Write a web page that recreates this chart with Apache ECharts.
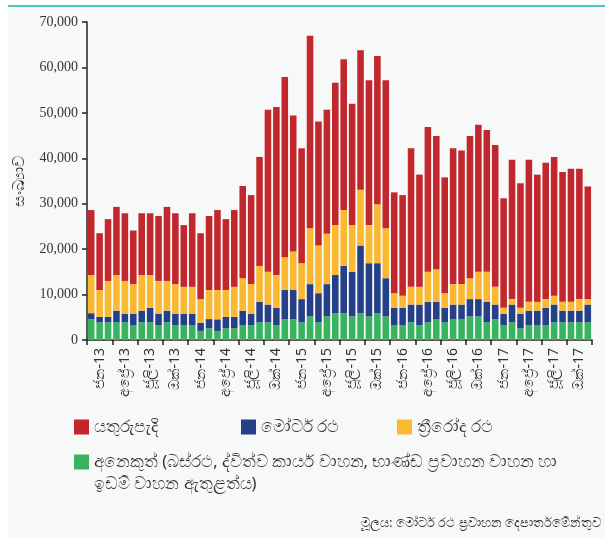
<!DOCTYPE html>
<html>
<head>
<meta charset="utf-8">
<script src="https://cdn.jsdelivr.net/npm/echarts@6/dist/echarts.min.js"></script>
<style>
html,body{margin:0;padding:0;background:#ffffff;}
#chart{width:605px;height:538px;}
</style>
</head>
<body>
<div id="chart"></div>
<script>
// Monthly categories, Jan 2013 - Dec 2017
var categories = [
  "2013-01","2013-02","2013-03","2013-04","2013-05","2013-06","2013-07","2013-08","2013-09","2013-10","2013-11","2013-12",
  "2014-01","2014-02","2014-03","2014-04","2014-05","2014-06","2014-07","2014-08","2014-09","2014-10","2014-11","2014-12",
  "2015-01","2015-02","2015-03","2015-04","2015-05","2015-06","2015-07","2015-08","2015-09","2015-10","2015-11","2015-12",
  "2016-01","2016-02","2016-03","2016-04","2016-05","2016-06","2016-07","2016-08","2016-09","2016-10","2016-11","2016-12",
  "2017-01","2017-02","2017-03","2017-04","2017-05","2017-06","2017-07","2017-08","2017-09","2017-10","2017-11","2017-12"
];
// Quarter tick labels (one per three months)
var tickLabels = [
  "ජන-13","අප්\u200dරේ-13","ජූලි-13","ඔක්-13",
  "ජන-14","අප්\u200dරේ-14","ජූලි-14","ඔක්-14",
  "ජන-15","අප්\u200dරේ-15","ජූලි-15","ඔක්-15",
  "ජන-16","අප්\u200dරේ-16","ජූලි-16","ඔක්-16",
  "ජන-17","අප්\u200dරේ-17","ජූලි-17","ඔක්-17"
];
var seriesNames = [
  "යතුරුපැදි",
  "මෝටර් රථ",
  "ත්\u200dරීරෝද රථ",
  "අනෙකුත් (බස්රථ, ද්විත්ව කාර්ය වාහන, භාණ්ඩ ප්\u200dරවාහන වාහන හා ඉඩම් වාහන ඇතුළත්ය)"
];
var otherLine1 = "අනෙකුත් (බස්රථ, ද්විත්ව කාර්ය වාහන, භාණ්ඩ ප්\u200dරවාහන වාහන හා";
var otherLine2 = "ඉඩම් වාහන ඇතුළත්ය)";
var sourceText = "මූලය: මෝටර් රථ ප්\u200dරවාහන දෙපාර්තමේන්තුව";

var other = [
  4600,3900,3900,3900,3900,3300,3900,3900,3300,3900,3300,3300,
  3300,2000,2600,2000,2600,2600,3300,3300,3900,3900,3300,4550,
  4550,3900,5200,3900,5200,5900,5900,5200,5900,5200,5900,5200,
  3300,3300,3900,3300,3900,4550,3900,4550,4550,5200,5200,3900,
  4550,3300,3900,2600,3300,3300,3300,3900,3900,3900,3900,3900
];
var motorCars = [
  1300,1200,1200,2550,1900,2500,2550,3200,2500,2550,2500,2500,
  2500,1800,2000,2550,2500,2500,3150,2500,4500,3900,3800,6450,
  6450,5100,7100,6400,7100,8400,10400,9800,14900,11700,11000,8400,
  3800,3800,3900,4500,4500,3850,3200,3250,3250,3800,3800,4500,
  3250,2500,3900,3200,3150,3150,3800,3900,2550,2550,2550,3900
];
var threeWheelers = [
  8400,5900,7900,7850,7200,6500,7850,7200,7200,6550,6500,5900,
  5900,5200,6400,6450,5900,6600,7150,6500,7900,7200,7200,7200,
  8500,7900,12300,10500,11100,11000,12300,10300,12300,8400,13000,11000,
  3200,2650,3900,3900,6600,7200,3200,4500,4500,4600,6000,6600,
  3900,1300,1200,1300,1950,1950,1900,1950,1950,1950,2550,1200
];
var motorcycles = [
  14300,12500,13600,15000,14900,11800,13600,13600,14300,16300,15600,13600,
  16200,14500,16300,17600,15600,16900,20300,19600,24000,35700,37000,39700,
  29900,25300,42350,27300,27300,31300,33200,26700,30700,31900,32600,32600,
  22200,22150,30500,24700,31900,29300,25500,29900,29400,31300,32400,31200,
  31200,24100,30700,27400,31300,28000,30000,30550,28600,29300,28700,24800
];
var yTicks = [0,10000,20000,30000,40000,50000,60000,70000];

var colors = {
  moto: "#c1272d",
  car: "#253f88",
  three: "#fbb831",
  other: "#39b35f"
};

var chart = echarts.init(document.getElementById('chart'), null, {renderer:'canvas'});

function mkSeries(name, data, color){
  return {
    name: name, type: 'bar', stack: 'total', data: data,
    barCategoryGap: '22%',
    itemStyle: {color: color},
    emphasis: {disabled: true}
  };
}

var LFS = 16.5;
var legendText = {fontFamily: 'Noto Sans, sans-serif', fontSize: LFS, color: '#333', lineHeight: 20};
function legendAt(name, left, top, fmt){
  var l = {data:[name], left: left, top: top, itemWidth: 15, itemHeight: 15, itemGap: 0,
           icon:'rect', textStyle: legendText, selectedMode:false, padding: 0};
  if (fmt) l.formatter = fmt;
  return l;
}

var option = {
  animation: false,
  backgroundColor: '#ffffff',
  graphic: [
    {type:'rect', shape:{x:8, y:6, width:597, height:532}, style:{fill:'#f7f9f9'}, z:-10, silent:true},
    {type:'rect', shape:{x:8, y:5, width:597, height:2}, style:{fill:'#4dc3c0'}, z:-9, silent:true},
    {type:'text', x: 94, y: 484, silent:true,
     style:{text: otherLine2, font: LFS + 'px "Noto Sans", sans-serif', fill:'#333', textAlign:'left', textVerticalAlign:'middle'}},
    {type:'text', x: 601, y: 523, silent:true,
     style:{text: sourceText, font:'13px "Noto Sans", sans-serif', fill:'#333', textAlign:'right', textVerticalAlign:'middle'}}
  ],
  grid: {left: 87, right: 13, top: 22, bottom: 198, containLabel: false},
  legend: [
    legendAt(seriesNames[0], 74, 417),
    legendAt(seriesNames[1], 241, 417),
    legendAt(seriesNames[2], 397, 417),
    legendAt(seriesNames[3], 74, 452, function(){ return otherLine1; })
  ],
  xAxis: {
    type: 'category',
    data: categories,
    boundaryGap: true,
    axisLine: {lineStyle: {color: '#222', width: 1.5}},
    axisTick: {show: true, length: 5, lineStyle:{color:'#222', width:1.5}, interval: function(i){ return i % 3 === 0; }},
    axisLabel: {
      rotate: 90,
      margin: 8,
      fontSize: 14,
      color: '#333',
      fontFamily: 'Noto Sans, sans-serif',
      interval: function(i){ return i % 3 === 1; },
      formatter: function(v, i){ return tickLabels[Math.floor(i/3)]; }
    }
  },
  yAxis: {
    type: 'value',
    min: yTicks[0],
    max: yTicks[yTicks.length-1],
    interval: 10000,
    name: 'සංඛ්\u200dයාව',
    nameLocation: 'middle',
    nameGap: 60,
    nameRotate: 90,
    nameTextStyle: {fontSize: 16, color:'#333', fontFamily:'Noto Sans, sans-serif'},
    splitLine: {show: false},
    axisLine: {show: true, lineStyle: {color: '#222', width: 1.5}},
    axisTick: {show: true, length: 5, lineStyle:{color:'#222', width:1.5}},
    axisLabel: {
      margin: 9,
      fontSize: 14,
      color: '#333',
      fontFamily: '"Liberation Serif", "DejaVu Serif", serif',
      formatter: function(v){ return v.toLocaleString('en-US'); }
    }
  },
  series: [
    mkSeries(seriesNames[3], other, colors.other),
    mkSeries(seriesNames[1], motorCars, colors.car),
    mkSeries(seriesNames[2], threeWheelers, colors.three),
    mkSeries(seriesNames[0], motorcycles, colors.moto)
  ]
};
chart.setOption(option);
</script>
</body>
</html>
